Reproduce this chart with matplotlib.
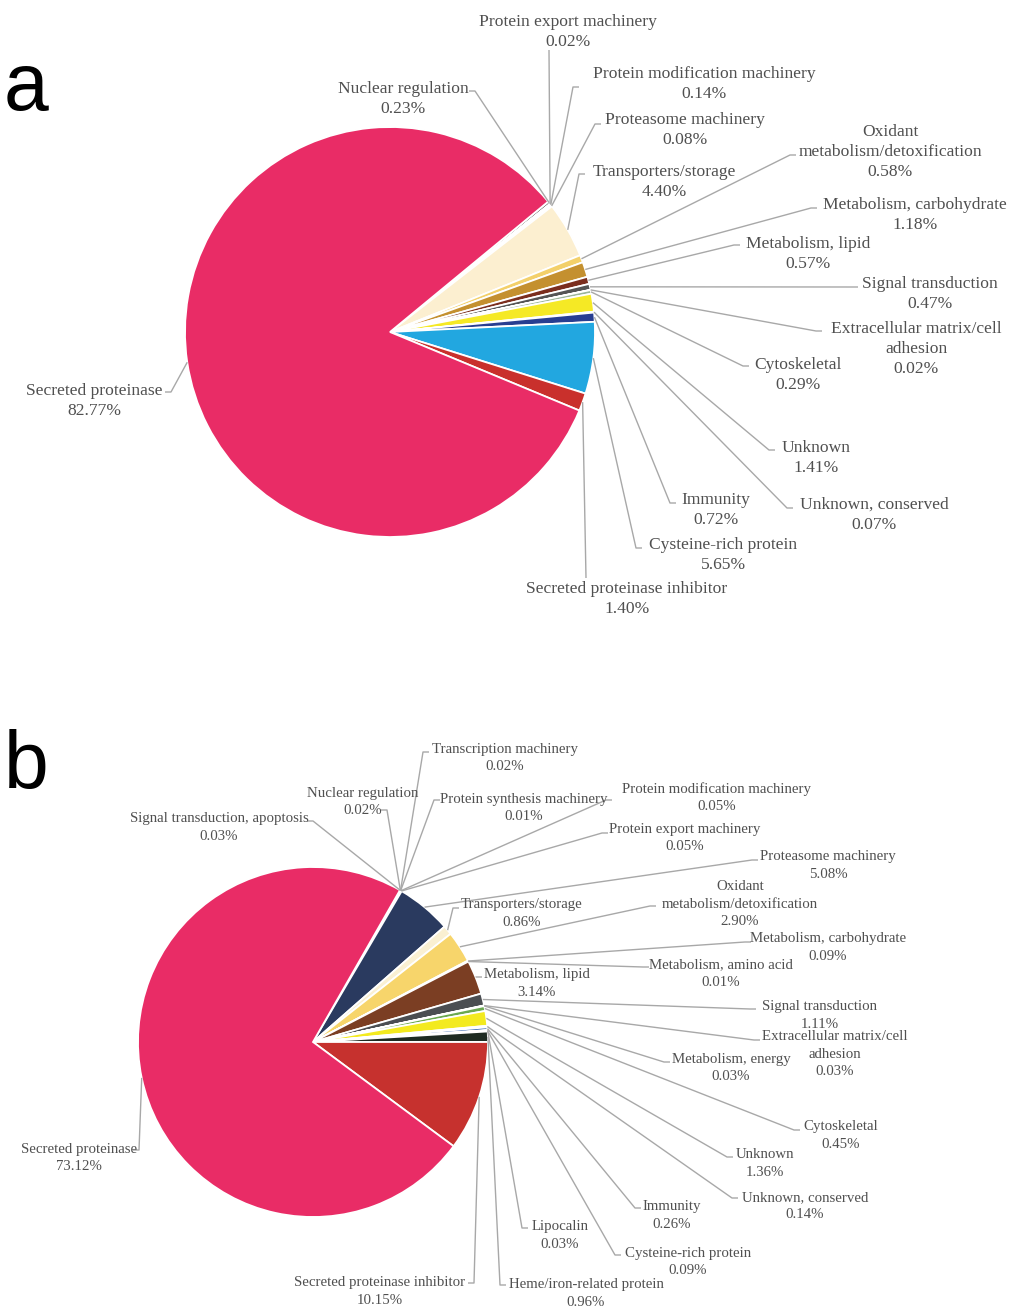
import matplotlib
matplotlib.use("Agg")
import matplotlib.pyplot as plt
import numpy as np

# ---- Panel a: secretome composition (percent of transcripts) ----
cats_a = [
    "Nuclear regulation", "Protein export machinery", "Protein modification machinery",
    "Proteasome machinery", "Transporters/storage", "Oxidant\nmetabolism/detoxification",
    "Metabolism, carbohydrate", "Metabolism, lipid", "Signal transduction",
    "Extracellular matrix/cell\nadhesion", "Cytoskeletal", "Unknown", "Unknown, conserved",
    "Immunity", "Cysteine-rich protein", "Secreted proteinase inhibitor", "Secreted proteinase",
]
vals_a = [0.23, 0.02, 0.14, 0.08, 4.40, 0.58, 1.18, 0.57, 0.47, 0.02, 0.29, 1.41, 0.07,
          0.72, 5.65, 1.40, 82.77]
colors_a = ["#7f7f7f", "#ed7d31", "#a5a5a5", "#264478", "#FCEFD0", "#F3D06A", "#C4902F",
            "#7B2E1E", "#555555", "#b0b0b0", "#9BB59B", "#F5E925", "#dddddd", "#283E91",
            "#22A7E0", "#C9302C", "#E92C66"]

# ---- Panel b ----
cats_b = [
    "Signal transduction, apoptosis", "Nuclear regulation", "Transcription machinery",
    "Protein synthesis machinery", "Protein modification machinery", "Protein export machinery",
    "Proteasome machinery", "Transporters/storage", "Oxidant\nmetabolism/detoxification",
    "Metabolism, carbohydrate", "Metabolism, amino acid", "Metabolism, lipid",
    "Signal transduction", "Extracellular matrix/cell\nadhesion", "Metabolism, energy",
    "Cytoskeletal", "Unknown", "Unknown, conserved", "Immunity", "Lipocalin",
    "Cysteine-rich protein", "Heme/iron-related protein", "Secreted proteinase inhibitor",
    "Secreted proteinase",
]
vals_b = [0.03, 0.02, 0.02, 0.01, 0.05, 0.05, 5.08, 0.86, 2.90, 0.09, 0.01, 3.14, 1.11,
          0.03, 0.03, 0.45, 1.36, 0.14, 0.26, 0.03, 0.09, 0.96, 10.15, 73.12]
colors_b = ["#7f7f7f", "#a5a5a5", "#ed7d31", "#5b9bd5", "#70ad47", "#264478", "#2A3A5F",
            "#FAF0D2", "#F7D56B", "#E3B74F", "#999999", "#7B3E23", "#4B4E52", "#9ea0a3",
            "#6e8f4e", "#6AA84F", "#F3EA1F", "#cccccc", "#3e6db5", "#888888", "#22A7E0",
            "#1E2B22", "#C6312E", "#E92C66"]

W, H = 1013, 1310

# Label layout in pixel coordinates measured from the top-left corner:
# (text centre x, first-line centre y, leader end x, leader end y, tick length)
layout_a = [
    (403, 87, 475, 91, -6), (568, 20, 549, 50, 0), (704, 72, 573, 87, 6),
    (685, 118, 595, 124, 6), (664, 170, 579, 174, 6), (890, 130, 790, 155, 6),
    (915, 203, 811, 208, 6), (808, 242, 734, 245, 6), (930, 282, 852, 287, 6),
    (916, 327, 816, 331, 6), (798, 363, 743, 366, 6), (816, 446, 769, 450, 6),
    (874, 503, 787, 508, 6), (716, 498, 670, 503, 6), (723, 543, 636, 548, 6),
    (627, 587, 586, 578, 0), (94, 389, 171, 392, -6),
]
layout_b = [
    (219, 817, 313, 821, -6), (363, 792, 387, 810, -6), (505, 748, 423, 752, 6),
    (524, 798, 434, 800, 6), (717, 788, 606, 800, 6), (685, 828, 602, 833, 6),
    (828, 855, 752, 860, 6), (522, 903, 453, 908, 6), (740, 885, 650, 906, 6),
    (828, 937, 745, 942, 6), (721, 963, 643, 967, 6), (537, 973, 476, 977, 6),
    (820, 1005, 750, 1009, 6), (835, 1035, 754, 1040, 6), (731, 1058, 664, 1062, 6),
    (841, 1125, 794, 1130, 6), (765, 1153, 727, 1157, 6), (805, 1196, 732, 1198, 6),
    (672, 1205, 635, 1208, 6), (560, 1225, 522, 1228, 6), (688, 1252, 615, 1255, 6),
    (586, 1283, 500, 1285, 6), (380, 1281, 474, 1283, -6), (79, 1148, 139, 1150, -6),
]

TEXT_COLOR = "#505050"
LINE_COLOR = "#a8a8a8"

fig = plt.figure(figsize=(W / 100, H / 100), dpi=100)
ax = fig.add_axes([0, 0, 1, 1])


def draw_panel(values, names, colors, layout, center, radius, start, fsize, pitch):
    cx, cy = center
    wedges, _ = ax.pie(values, colors=colors, startangle=start, counterclock=False,
                       center=(cx, H - cy), radius=radius,
                       wedgeprops=dict(edgecolor="white", linewidth=1.3))
    for w, name, val, (tx, ty, lx, ly, tick) in zip(wedges, names, values, layout):
        # leader line from the middle of the wedge's outer arc to its label
        mid = np.deg2rad((w.theta1 + w.theta2) / 2)
        px = w.center[0] + w.r * np.cos(mid)
        py = w.center[1] + w.r * np.sin(mid)
        ax.plot([px, lx, lx + tick], [py, H - ly, H - ly], color=LINE_COLOR,
                lw=1.0, solid_capstyle="butt", zorder=1)
        lines = name.split("\n") + [f"{val:.2f}%"]
        for i, line in enumerate(lines):
            ax.text(tx, H - (ty + i * pitch), line, ha="center", va="center_baseline",
                    fontsize=fsize, family="Liberation Serif", color=TEXT_COLOR, zorder=3)


draw_panel(vals_a, cats_a, colors_a, layout_a, (390, 332), 205, 39.5, 12.6, 19.8)
draw_panel(vals_b, cats_b, colors_b, layout_b, (313, 1042), 175, 60.2, 10.7, 17.5)

ax.text(26, H - 89, "a", fontsize=58, ha="center", va="center", family="Liberation Sans")
ax.text(26, H - 767, "b", fontsize=58, ha="center", va="center", family="Liberation Sans")

ax.set_xlim(0, W)
ax.set_ylim(0, H)
ax.set_aspect("equal")
ax.axis("off")

fig.savefig("out.png", dpi=100, facecolor="white")
